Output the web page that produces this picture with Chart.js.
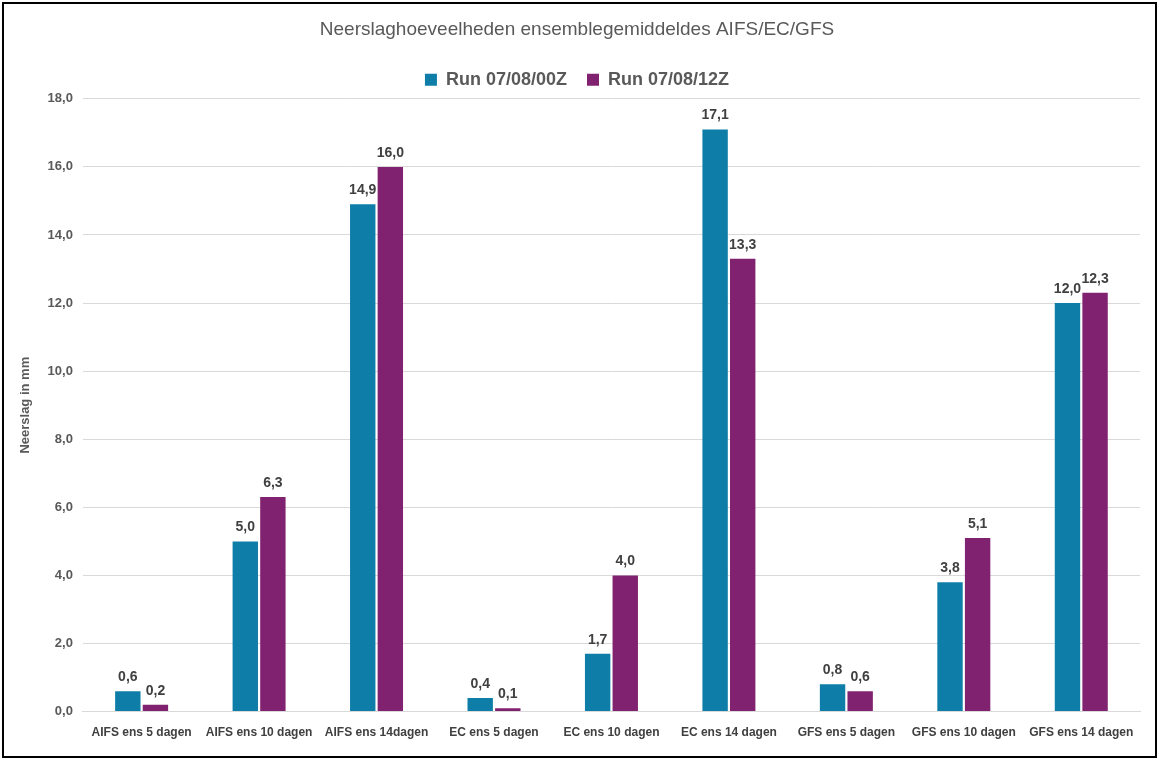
<!DOCTYPE html>
<html lang="nl">
<head>
<meta charset="UTF-8">
<title>Neerslaghoeveelheden</title>
<script src="https://cdn.jsdelivr.net/npm/chart.js@4.4.0/dist/chart.umd.min.js"></script>
<style>
    body { margin: 0; background: #fff; }
    .frame {
        position: absolute; left: 2px; top: 2px;
        width: 1151px; height: 752px;
        border: 2px solid #000; background: #fff;
    }
    canvas { display: block; }
</style>
</head>
<body>
<div class="frame"><canvas id="chart" width="1151" height="752"></canvas></div>
<script>
const categories = ['AIFS ens 5 dagen', 'AIFS ens 10 dagen', 'AIFS ens 14dagen',
    'EC ens 5 dagen', 'EC ens 10 dagen', 'EC ens 14 dagen',
    'GFS ens 5 dagen', 'GFS ens 10 dagen', 'GFS ens 14 dagen'];
const run00 = [0.6, 5.0, 14.9, 0.4, 1.7, 17.1, 0.8, 3.8, 12.0];
const run12 = [0.2, 6.3, 16.0, 0.1, 4.0, 13.3, 0.6, 5.1, 12.3];

// waarden boven de staven tekenen
const barLabels = {
    id: 'barLabels',
    afterDatasetsDraw(chart) {
        const ctx = chart.ctx;
        ctx.save();
        ctx.font = 'bold 14px "Liberation Sans", Arial, sans-serif';
        ctx.fillStyle = '#404040';
        ctx.textAlign = 'center';
        ctx.textBaseline = 'bottom';
        chart.data.datasets.forEach((ds, i) => {
            chart.getDatasetMeta(i).data.forEach((bar, j) => {
                ctx.fillText(ds.data[j].toFixed(1).replace('.', ','), bar.x, bar.y - 7);
            });
        });
        ctx.restore();
    }
};

new Chart(document.getElementById('chart'), {
    type: 'bar',
    data: {
        labels: categories,
        datasets: [
            { label: 'Run 07/08/00Z', data: run00, backgroundColor: '#0E7EA8' },
            { label: 'Run 07/08/12Z', data: run12, backgroundColor: '#80226F' }
        ]
    },
    options: {
        responsive: false,
        animation: false,
        layout: { padding: { left: 10, right: 15, top: 8, bottom: 10 } },
        datasets: { bar: { categoryPercentage: 0.47, barPercentage: 0.92 } },
        scales: {
            y: {
                min: 0, max: 18,
                ticks: {
                    stepSize: 2,
                    color: '#595959',
                    font: { size: 13, weight: 'bold', family: '"Liberation Sans", Arial' },
                    callback: v => v.toFixed(1).replace('.', ','),
                    padding: 10
                },
                grid: { color: '#d9d9d9', drawTicks: false },
                border: { display: false },
                title: {
                    display: true, text: 'Neerslag in mm', color: '#595959',
                    font: { size: 13, weight: 'bold', family: '"Liberation Sans", Arial' }
                }
            },
            x: {
                ticks: {
                    color: '#404040',
                    font: { size: 12, weight: 'bold', family: '"Liberation Sans", Arial' },
                    maxRotation: 0, padding: 6
                },
                grid: { display: false },
                border: { color: '#d9d9d9' }
            }
        },
        plugins: {
            title: {
                display: true,
                text: 'Neerslaghoeveelheden ensemblegemiddeldes AIFS/EC/GFS',
                color: '#595959',
                font: { size: 19, weight: 'normal', family: '"Liberation Sans", Arial' },
                padding: { top: 6, bottom: 10 }
            },
            legend: {
                labels: {
                    color: '#595959',
                    boxWidth: 12, boxHeight: 12,
                    font: { size: 18, weight: 'bold', family: '"Liberation Sans", Arial' },
                    padding: 20
                }
            },
            tooltip: { enabled: false }
        }
    },
    plugins: [barLabels]
});
</script>
</body>
</html>
